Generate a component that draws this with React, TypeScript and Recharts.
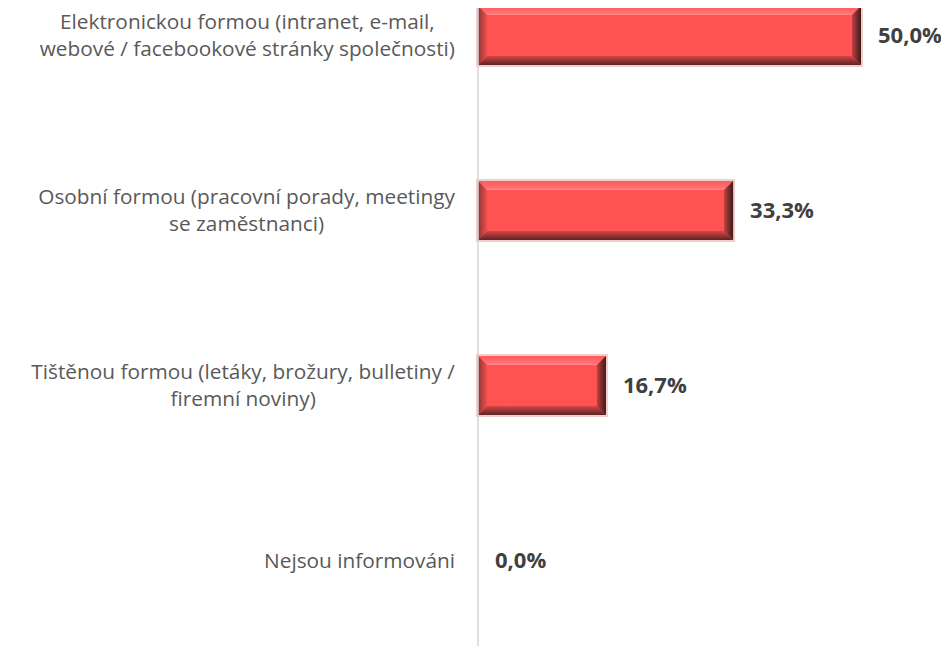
import React from 'react';
import { BarChart, Bar, XAxis, YAxis, LabelList } from 'recharts';

// kategorie (řádky odděleny \n) a podíly v %
const categories = [
  'Elektronickou formou (intranet, e-mail,\nwebové / facebookové stránky společnosti)',
  'Osobní formou (pracovní porady, meetingy\nse zaměstnanci)',
  'Tištěnou formou (letáky, brožury, bulletiny /\nfiremní noviny)',
  'Nejsou informováni',
];
const shares = [50.0, 33.3, 16.7, 0.0];

const data = categories.map((name, i) => ({ name, value: shares[i] }));

const TICK_FONT = '"Open Sans", sans-serif';
const TICK_SIZE = 20.8;
const LINE_H = 27;

let ctx: CanvasRenderingContext2D | null = null;
function measure(text: string) {
  if (!ctx) ctx = document.createElement('canvas').getContext('2d');
  if (!ctx) return text.length * TICK_SIZE * 0.5;
  ctx.font = `${TICK_SIZE}px ${TICK_FONT}`;
  return ctx.measureText(text).width;
}

// popisky os: víceřádkový text, řádky centrované, blok zarovnaný doprava
const CategoryTick = (props: any) => {
  const { x, y, payload } = props;
  const lines = String(payload.value).split('\n');
  const blockW = Math.max(...lines.map(measure));
  const cx = x - blockW / 2;
  return (
    <g>
      {lines.map((l, i) => (
        <text
          key={i}
          x={cx}
          y={y + (i - (lines.length - 1) / 2) * LINE_H}
          dy="0.35em"
          textAnchor="middle"
          fill="#595959"
          fontFamily={TICK_FONT}
          fontSize={TICK_SIZE}
        >
          {l}
        </text>
      ))}
    </g>
  );
};

// sloupec s efektem zkosení (bevel)
const BevelBar = (props: any) => {
  const { x, y, width, height, index } = props;
  if (!width || width <= 0) return null;
  const b = Math.min(9, width / 2, height / 2);
  const id = `bv${index}`;
  const x2 = x + width;
  const y2 = y + height;
  return (
    <g>
      <defs>
        <linearGradient id={`${id}t`} x1="0" y1="0" x2="0" y2="1">
          <stop offset="0%" stopColor="#ff5a5a" />
          <stop offset="80%" stopColor="#ff7272" />
          <stop offset="100%" stopColor="#ff8e8e" />
        </linearGradient>
        <linearGradient id={`${id}b`} x1="0" y1="0" x2="0" y2="1">
          <stop offset="0%" stopColor="#d84646" />
          <stop offset="100%" stopColor="#5a2424" />
        </linearGradient>
        <linearGradient id={`${id}l`} x1="0" y1="0" x2="1" y2="0">
          <stop offset="0%" stopColor="#8a3636" />
          <stop offset="100%" stopColor="#f04e4e" />
        </linearGradient>
        <linearGradient id={`${id}r`} x1="0" y1="0" x2="1" y2="0">
          <stop offset="0%" stopColor="#c24040" />
          <stop offset="100%" stopColor="#3a1c1c" />
        </linearGradient>
      </defs>
      <rect x={x - 1} y={y - 1} width={width + 2} height={height + 2} fill="none" stroke="rgba(220,110,110,0.35)" strokeWidth={2} />
      <rect x={x} y={y} width={width} height={height} fill="#ff5252" />
      <polygon points={`${x},${y} ${x2},${y} ${x2 - b},${y + b} ${x + b},${y + b}`} fill={`url(#${id}t)`} />
      <polygon points={`${x},${y2} ${x2},${y2} ${x2 - b},${y2 - b} ${x + b},${y2 - b}`} fill={`url(#${id}b)`} />
      <polygon points={`${x},${y} ${x + b},${y + b} ${x + b},${y2 - b} ${x},${y2}`} fill={`url(#${id}l)`} />
      <polygon points={`${x2},${y} ${x2 - b},${y + b} ${x2 - b},${y2 - b} ${x2},${y2}`} fill={`url(#${id}r)`} />
    </g>
  );
};

const fmt = (v: any) => `${Number(v).toFixed(1).replace('.', ',')}%`;

export default function App() {
  return (
    <div style={{ marginLeft: -8, marginTop: -60.5, background: '#fff' }}>
      <BarChart
        width={949}
        height={700}
        data={data}
        layout="vertical"
        margin={{ top: 0, right: 88, bottom: 0, left: 0 }}
        barSize={59}
      >
        <XAxis type="number" domain={[0, 50]} hide />
        <YAxis
          type="category"
          dataKey="name"
          width={478}
          tickSize={0}
          tickMargin={23}
          tickLine={false}
          axisLine={{ stroke: '#d4d4d4', strokeWidth: 1.5 }}
          tick={<CategoryTick />}
          interval={0}
        />
        <Bar dataKey="value" shape={<BevelBar />} isAnimationActive={false}>
          <LabelList
            dataKey="value"
            position="right"
            offset={17}
            formatter={fmt}
            fill="#404040"
            fontFamily='"Open Sans", sans-serif'
            fontWeight="bold"
            fontSize={22}
          />
        </Bar>
      </BarChart>
    </div>
  );
}
